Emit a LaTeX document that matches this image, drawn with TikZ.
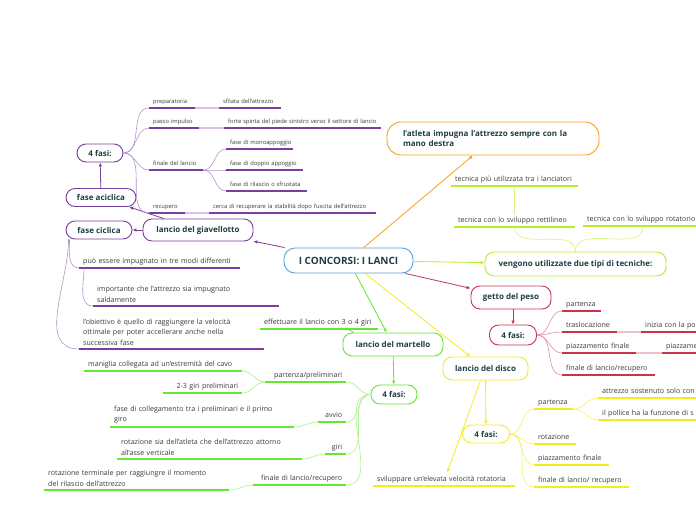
\documentclass[tikz,border=0pt]{standalone}
\usepackage{fontspec}
\setmainfont{Open Sans}
\usepackage{xcolor}
\usetikzlibrary{arrows.meta}

\definecolor{ink}{HTML}{1E3D44}
\definecolor{lbl}{HTML}{3A3A3A}
\definecolor{cblue}{HTML}{5B9FD6}
\definecolor{corange}{HTML}{F7A11A}
\definecolor{clime}{HTML}{B6EE2A}
\definecolor{cred}{HTML}{C8334F}
\definecolor{cgreen}{HTML}{62E82C}
\definecolor{cyellow}{HTML}{F4EC1E}
\definecolor{cpurple}{HTML}{7A3E9D}

\newcommand{\tinyfnt}{\fontsize{5.8}{7}\selectfont}
\newcommand{\lblfnt}{\fontsize{7.1}{10.5}\selectfont}
\newcommand{\boldfnt}{\bfseries\fontsize{8}{10}\selectfont}
\newcommand{\bigfnt}{\bfseries\fontsize{10}{12}\selectfont}

\begin{document}
\begin{tikzpicture}[x=1pt,y=-1pt,>={Latex[length=4pt,width=3.5pt]},
  bubble/.style={draw, rounded corners=9pt, line width=0.9pt, fill=white, text=ink, font=\boldfnt, inner sep=2pt},
  tbase/.style={anchor=south west, inner xsep=4pt, inner ysep=3pt, align=left, text=lbl, font=\lblfnt},
  topic/.style={tbase, text depth=1.5pt, execute at begin node={\hbox\bgroup}, execute at end node={\egroup}},
  rtopic/.style={tbase, text depth=1.5pt, align=right},
  ml/.style={tbase, inner ysep=3.5pt},
  small/.style={topic, font=\tinyfnt},
  link/.style={->, line width=0.8pt},
  twig/.style={line width=0.6pt},
  ul/.style={line width=1.4pt}]
\fill[white] (0,0) rectangle (696,520);
\useasboundingbox (0,0) rectangle (696,520);

% main nodes
\node[bubble, draw=cblue, font=\bigfnt, minimum width=129pt, minimum height=25pt, rounded corners=11pt] (root) at (348.5,260.5) {I CONCORSI: I LANCI};
\node[bubble, draw=corange, minimum width=212pt, minimum height=33pt, text width=180pt, align=left, rounded corners=14pt] (hand) at (493,138.5) {l'atleta impugna l'attrezzo sempre con la\\mano destra};
\node[bubble, draw=clime, minimum width=181pt, minimum height=24pt] (tech) at (575.5,264) {vengono utilizzate due tipi di tecniche:};
\node[bubble, draw=cred, minimum width=80pt, minimum height=23pt] (peso) at (511,297.5) {getto del peso};
\node[bubble, draw=cred, minimum width=47pt, minimum height=20pt] (rf) at (513,335) {4 fasi:};
\node[bubble, draw=cgreen, minimum width=100pt, minimum height=23pt] (mart) at (393,344.5) {lancio del martello};
\node[bubble, draw=cgreen, minimum width=46pt, minimum height=19pt] (gf) at (394,394.5) {4 fasi:};
\node[bubble, draw=cyellow, minimum width=85pt, minimum height=23pt] (disco) at (485.5,368.5) {lancio del disco};
\node[bubble, draw=cyellow, minimum width=47pt, minimum height=18pt] (yf) at (486,434) {4 fasi:};
\node[bubble, draw=cpurple, minimum width=110pt, minimum height=22pt] (giav) at (198,230) {lancio del giavellotto};
\node[bubble, draw=cpurple, minimum width=66pt, minimum height=18pt] (cic) at (99,230) {fase ciclica};
\node[bubble, draw=cpurple, minimum width=70pt, minimum height=18pt] (acic) at (101,197.5) {fase aciclica};
\node[bubble, draw=cpurple, minimum width=46pt, minimum height=18pt] (pf) at (100,153) {4 fasi:};

% giavellotto
\node[small, text width=38pt] (p1) at (149,108) {preparatoria};
\node[small, text width=54pt] (p1c) at (219,108) {sfilata dell'attrezzo};
\node[small, text width=42pt] (p2) at (149,128) {passo impulso};
\node[small, text width=149pt] (p2c) at (224,128) {forte spinta del piede sinistro verso il settore di lancio};
\node[small, text width=46pt] (p3) at (149,170) {finale del lancio};
\node[small, text width=59pt] (p3a) at (226,149) {fase di monoappoggio};
\node[small, text width=69pt] (p3b) at (226,170) {fase di doppio appoggio};
\node[small, text width=73pt] (p3c) at (226,191) {fase di rilascio o sfrustata};
\node[small, text width=28pt] (p4) at (149,213) {recupero};
\node[small, text width=159pt] (p4c) at (209,213) {cerca di recuperare la stabilità dopo l'uscita dell'attrezzo};
\node[topic, text width=153pt] (c1) at (79,268) {può essere impugnato in tre modi differenti};
\node[ml, text width=178pt] (c1a) at (93,306) {importante che l'attrezzo sia impugnato\\saldamente};
\node[ml, text width=177pt] (c2) at (79,349) {l'obiettivo è quello di raggiungere la velocità\\ottimale per poter accellerare anche nella\\successiva fase};

% martello
\node[topic, text width=110pt] (eff) at (260,329) {effettuare il lancio con 3 o 4 giri};
\node[rtopic, text width=73pt] (g1) at (265,382) {partenza/preliminari};
\node[topic, text width=150pt] (g1a) at (84,371) {maniglia collegata ad un'estremità del cavo};
\node[rtopic, text width=71pt] (g1b) at (163,393) {2-3 giri preliminari};
\node[rtopic, text width=20pt] (g2) at (318,422) {avvio};
\node[ml, text width=176pt] (g2c) at (110,427) {fase di collegamento tra i preliminari e il primo\\giro};
\node[rtopic, text width=13pt] (g3) at (325,454) {giri};
\node[ml, text width=177pt] (g3c) at (117,459) {rotazione sia dell'atleta che dell'attrezzo attorno\\all'asse verticale};
\node[rtopic, text width=85pt] (g4) at (253,485) {finale di lancio/recupero};
\node[ml, text width=177pt] (g4c) at (44,490) {rotazione terminale per raggiungre il momento\\del rilascio dell'attrezzo};

% peso
\node[topic, text width=31pt] (r1) at (562,311) {partenza};
\node[topic, text width=47pt] (r2) at (562,332) {traslocazione};
\node[topic, text width=62pt] (r2c) at (641,332) {inizia con la po};
\node[topic, text width=66pt] (r3) at (562,353) {piazzamento finale};
\node[topic, text width=42pt] (r3c) at (662,353) {piazzame};
\node[topic, text width=85pt] (r4) at (562,375) {finale di lancio/recupero};

% disco
\node[topic, text width=31pt] (y1) at (534,409) {partenza};
\node[topic, text width=102pt] (y1a) at (598,398) {attrezzo sostenuto solo con};
\node[topic, text width=102pt] (y1b) at (598,420) {il pollice ha la funzione di s};
\node[topic, text width=34pt] (y2) at (534,444) {rotazione};
\node[topic, text width=67pt] (y3) at (534,465) {piazzamento finale};
\node[topic, text width=87pt] (y4) at (534,487) {finale di lancio/ recupero};
\node[topic, text width=134pt] (yv) at (373,486) {sviluppare un'elevata velocità rotatoria};

% tecniche
\node[topic, text width=119pt] (l3) at (451,186) {tecnica più utilizzata tra i lanciatori};
\node[topic, text width=113pt] (l1) at (454,227) {tecnica con lo sviluppo rettilineo};
\node[topic, text width=112pt] (l2) at (583,226) {tecnica con lo sviluppo rotatorio};

% underlines
\foreach \n in {p1,p1c,p2,p2c,p3,p3a,p3b,p3c,p4,p4c,c1,c1a,c2}
  \draw[ul, cpurple] (\n.south west) -- (\n.south east);
\foreach \n in {eff,g1,g1a,g1b,g2,g2c,g3,g3c,g4,g4c}
  \draw[ul, cgreen] (\n.south west) -- (\n.south east);
\foreach \n in {r1,r2,r2c,r3,r3c,r4}
  \draw[ul, cred] (\n.south west) -- (\n.south east);
\foreach \n in {y1,y1a,y1b,y2,y3,y4,yv}
  \draw[ul, cyellow] (\n.south west) -- (\n.south east);
\foreach \n in {l1,l2,l3}
  \draw[ul, clime] (\n.south west) -- (\n.south east);

% arrows from the root
\draw[link, corange] (root) -- (hand);
\draw[link, clime] (root) -- (tech);
\draw[link, cred] (root) -- (peso);
\draw[link, cgreen] (root) -- (mart);
\draw[link, cyellow] (root) -- (disco);
\draw[link, cpurple] (root) -- (giav);

\draw[link, cred] (peso.south -| rf.north) -- (rf.north);
\draw[link, cgreen] (mart) -- (gf);
\draw[link, cgreen] ([xshift=-39pt]mart.north) to[out=150,in=0] ([xshift=-35pt]eff.south east);
\draw[link, cyellow] (disco) -- (yf);
\draw[link, cyellow] ([xshift=-5pt]disco.south) -- ([xshift=3pt]yv.north);
\draw[link, cpurple] (giav) -- (cic);
\draw[link, cpurple] (giav) -- (acic);
\draw[link, cpurple] (acic) -- (pf);

% branches
\foreach \n in {p1,p2,p3,p4}
  \draw[twig, cpurple!55] (pf.east) to[out=0,in=180] (\n.south west);
\foreach \n in {p3a,p3b,p3c}
  \draw[twig, cpurple!55] (p3.south east) to[out=0,in=180] (\n.south west);
\draw[ul, cpurple!30] (p1.south east) -- (p1c.south west);
\draw[ul, cpurple!30] (p2.south east) -- (p2c.south west);
\draw[ul, cpurple!30] (p4.south east) -- (p4c.south west);
\draw[twig, cpurple!55] ([xshift=4pt]cic.south west) to[out=-90,in=180] (c1.south west);
\draw[twig, cpurple!55] ([xshift=3pt]cic.south west) to[out=-90,in=180] (c2.south west);
\draw[twig, cpurple!55] ([xshift=5pt]c1.south west) to[out=-90,in=180] (c1a.south west);

\foreach \n in {g1,g2,g3,g4}
  \draw[twig, cgreen!55] (gf.west) to[out=180,in=0] (\n.south east);
\foreach \n in {g1a,g1b}
  \draw[twig, cgreen!55] (g1.south west) to[out=180,in=0] (\n.south east);
\foreach \n in {g2,g3,g4}
  \draw[twig, cgreen!55] (\n.south west) to[out=180,in=0] (\n c.south east);

\foreach \n in {r1,r2,r3,r4}
  \draw[twig, cred!55] (rf.east) to[out=0,in=180] (\n.south west);
\draw[ul, cred!30] (r2.south east) -- (r2c.south west);
\draw[ul, cred!30] (r3.south east) -- (r3c.south west);

\foreach \n in {y1,y2,y3,y4}
  \draw[twig, cyellow!70] (yf.east) to[out=0,in=180] (\n.south west);
\foreach \n in {y1a,y1b}
  \draw[twig, cyellow!70] (y1.south east) to[out=0,in=180] (\n.south west);

\draw[twig, clime!60] (tech.north) to[out=90,in=-90] (l1.south);
\draw[twig, clime!60] (tech.north) to[out=90,in=-90] (l2.south);
\draw[twig, clime!60] (l3.south) -- (l1.north);
\end{tikzpicture}
\end{document}
